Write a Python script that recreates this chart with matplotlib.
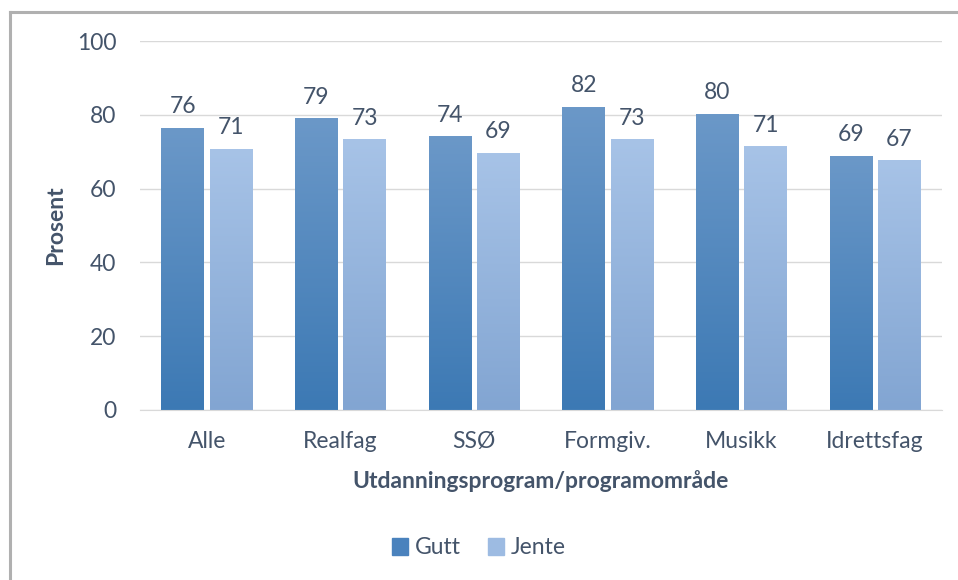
import matplotlib.pyplot as plt
import numpy as np
from matplotlib.colors import LinearSegmentedColormap
from matplotlib.lines import Line2D
from matplotlib.patches import Patch

categories = ["Alle", "Realfag", "SSØ", "Formgiv.", "Musikk", "Idrettsfag"]
gutt = [76.4, 78.9, 74.0, 82.1, 80.2, 68.8]
jente = [70.7, 73.2, 69.6, 73.2, 71.3, 67.5]
gutt_labels = ["76", "79", "74", "82", "80", "69"]
jente_labels = ["71", "73", "69", "73", "71", "67"]

plt.rcParams['font.family'] = ['Lato', 'DejaVu Sans']
txt = "#44546a"
fs = 16.5

fig = plt.figure(figsize=(9.58, 5.8), dpi=100)
ax = fig.add_axes([140 / 958, 170 / 580, 802 / 958, 369 / 580])

# chart frame (left and top edges visible)
fig.add_artist(Line2D([9.5 / 958, 9.5 / 958], [0, 1 - 12 / 580], color="#b0b0b0", lw=2.2,
                      transform=fig.transFigure))
fig.add_artist(Line2D([9.5 / 958, 1], [1 - 12 / 580, 1 - 12 / 580], color="#b0b0b0", lw=2.2,
                      transform=fig.transFigure))

x = np.arange(len(categories))
w = 0.32
gap = 0.04
cmap_g = LinearSegmentedColormap.from_list("g", ["#3c79b4", "#6b98c8"])
cmap_j = LinearSegmentedColormap.from_list("j", ["#82a5d2", "#a7c3e7"])

grad = np.linspace(0, 1, 256).reshape(-1, 1)
for vals, labs, off, cm in [(gutt, gutt_labels, -(w + gap) / 2, cmap_g),
                            (jente, jente_labels, (w + gap) / 2, cmap_j)]:
    bars = ax.bar(x + off, vals, w, color="none", zorder=2)
    for b, lab in zip(bars, labs):
        x0, h = b.get_x(), b.get_height()
        ax.imshow(grad, cmap=cm, origin="lower", aspect="auto",
                  extent=[x0, x0 + w, 0, h], zorder=2)
        ax.text(x0 + w / 2, h + 3, lab, ha="center", va="bottom", fontsize=fs, color=txt)

ax.set_xlim(-0.5, len(categories) - 0.5)
ax.set_ylim(0, 100)
ax.set_yticks([0, 20, 40, 60, 80, 100])
ax.yaxis.grid(True, color="#d9d9d9", lw=1)
ax.set_axisbelow(True)
for s in ["top", "right", "left"]:
    ax.spines[s].set_visible(False)
ax.spines["bottom"].set_color("#d9d9d9")
ax.tick_params(length=0, labelsize=fs, labelcolor=txt)
ax.tick_params(axis="y", pad=17)
ax.tick_params(axis="x", pad=15)
ax.set_xticks(x)
ax.set_xticklabels(categories)
ax.set_ylabel("Prosent", fontsize=16.5, fontweight="bold", color=txt, labelpad=8)
ax.set_xlabel("Utdanningsprogram/programområde", fontsize=16.5, fontweight="bold", color=txt, labelpad=13)

handles = [Patch(color="#4a82bd"), Patch(color="#9dbbe2")]
fig.legend(handles, ["Gutt", "Jente"], loc="center", bbox_to_anchor=(0.5, 1 - 548 / 580),
           ncol=2, frameon=False, fontsize=fs, labelcolor=txt, handlelength=0.7,
           handleheight=0.7, handletextpad=0.3, columnspacing=1.2)

fig.savefig("out.png", dpi=100)
